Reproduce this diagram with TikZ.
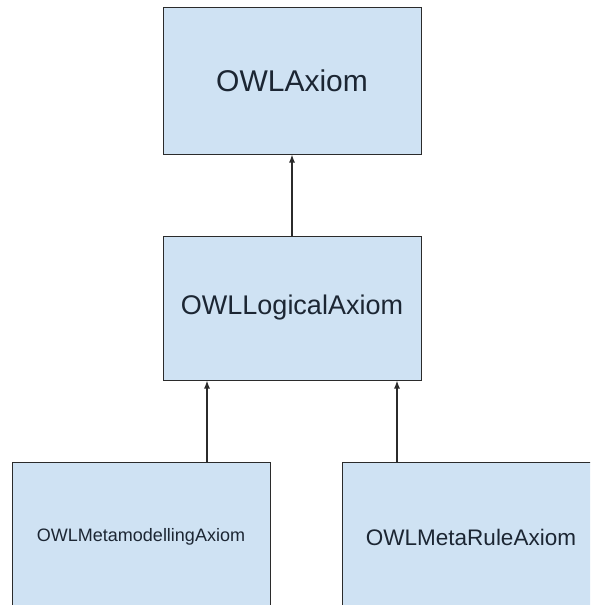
\documentclass[tikz,border=0pt]{standalone}
\usepackage{fontspec}
\setmainfont{Liberation Sans}
\usetikzlibrary{arrows.meta}
\definecolor{boxblue}{HTML}{CFE2F3}
\definecolor{boxline}{HTML}{2B2B2B}
\definecolor{txt}{HTML}{1C2633}

\begin{document}
\begin{tikzpicture}[x=1pt, y=-1pt,
  box/.style={draw=boxline, fill=boxblue, line width=1pt, text=txt,
    minimum width=258pt, inner sep=0pt},
  inh/.style={-{Latex[length=8pt, width=6pt]}, line width=1.4pt, boxline}]
\clip (0,0) rectangle (590,605);
\fill[white] (0,0) rectangle (590,605);

\node[box, minimum height=147pt, font=\fontsize{30}{36}\selectfont] (axiom) at (292, 80.5) {\raisebox{-3pt}{OWLAxiom}};
\node[box, minimum height=144pt, font=\fontsize{27}{32}\selectfont] (logical) at (292, 308) {\raisebox{-3pt}{OWLLogicalAxiom}};

\node[box, minimum height=150pt, font=\fontsize{18}{22}\selectfont] (mm) at (141, 537) {OWLMetamodellingAxiom};
\node[box, minimum height=150pt, font=\fontsize{22.5}{27}\selectfont] (rule) at (471, 537) {OWLMetaRuleAxiom};

\draw[inh] (logical.north) -- (axiom.south);
\draw[inh] ([xshift=-85pt]logical.south |- mm.north) -- ([xshift=-85pt]logical.south);
\draw[inh] ([xshift=105pt]logical.south |- rule.north) -- ([xshift=105pt]logical.south);
\end{tikzpicture}
\end{document}
